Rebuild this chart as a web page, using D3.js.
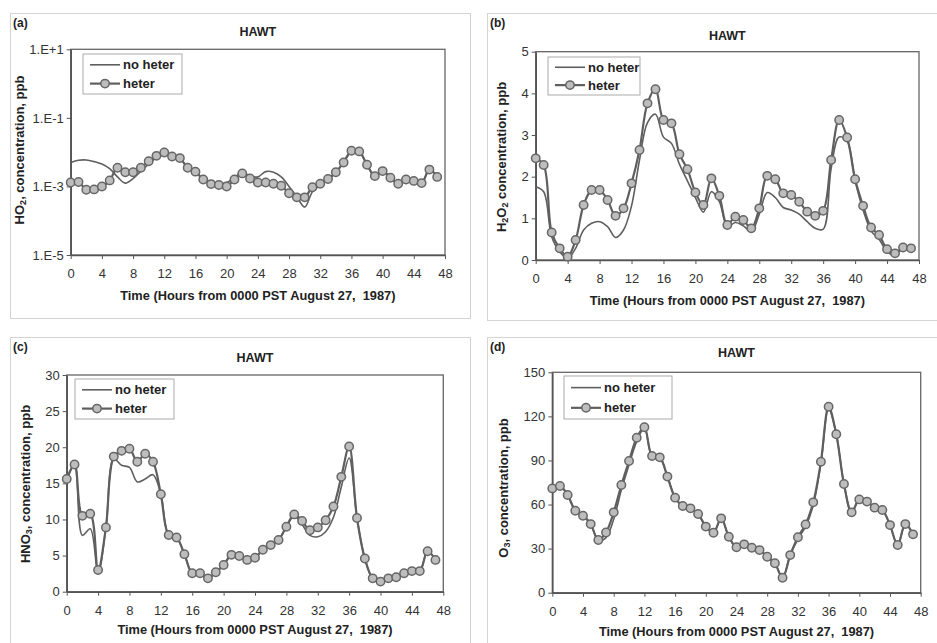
<!DOCTYPE html>
<html><head><meta charset="utf-8">
<script src="https://cdn.jsdelivr.net/npm/d3@7"></script>
<style>
html,body{margin:0;padding:0;background:#fff;}
svg{display:block;font-family:"Liberation Sans",Arial,sans-serif;}
</style></head>
<body>
<svg id="c" width="937" height="643"></svg>
<script>
// ---------- data ----------
const hours = d3.range(0, 48);
const xTicks = [0,4,8,12,16,20,24,28,32,36,40,44,48];
const seriesNames = ["no heter", "heter"];
const panelLabels = ["(a)", "(b)", "(c)", "(d)"];
const panelTitle = "HAWT";
const xTitle = "Time (Hours from 0000 PST August 27,\u00a0 1987)";

// (a) HO2, ppb (log scale)
const ho2Ticks = [1e1, 1e-1, 1e-3, 1e-5];
const ho2TickLabels = ["1.E+1", "1.E-1", "1.E-3", "1.E-5"];
const ho2NoHeter = [5.0e-3,5.8e-3,5.9e-3,5.3e-3,4.5e-3,3.3e-3,1.9e-3,1.25e-3,1.7e-3,2.8e-3,4.5e-3,7.0e-3,9.5e-3,7.5e-3,6.5e-3,3.5e-3,
  2.6e-3,1.6e-3,1.2e-3,1.2e-3,1.3e-3,1.8e-3,2.6e-3,2.0e-3,1.9e-3,2.7e-3,2.6e-3,1.9e-3,1.0e-3,0.5e-3,0.25e-3,0.7e-3,
  1.1e-3,1.6e-3,2.5e-3,5.0e-3,1.05e-2,1.0e-2,4.2e-3,2.0e-3,2.8e-3,1.8e-3,1.2e-3,1.6e-3,1.45e-3,1.25e-3,3.1e-3,1.9e-3];
const ho2Heter = [1.3e-3,1.35e-3,0.8e-3,0.82e-3,1.0e-3,1.5e-3,3.5e-3,2.6e-3,2.6e-3,3.5e-3,5.4e-3,7.8e-3,9.8e-3,7.5e-3,6.7e-3,3.5e-3,
  2.7e-3,1.6e-3,1.17e-3,1.1e-3,1.0e-3,1.6e-3,2.4e-3,1.7e-3,1.3e-3,1.3e-3,1.2e-3,1.05e-3,0.63e-3,0.48e-3,0.48e-3,0.95e-3,
  1.2e-3,1.65e-3,2.6e-3,5.0e-3,1.1e-2,1.05e-2,4.3e-3,2.0e-3,2.8e-3,1.8e-3,1.2e-3,1.6e-3,1.45e-3,1.25e-3,3.1e-3,1.9e-3];

// (b) H2O2, ppb
const h2o2Ticks = [0,1,2,3,4,5];
const h2o2NoHeter = [1.76,1.64,0.56,0.2,0.04,0.28,0.72,0.88,0.92,0.8,0.54,0.72,1.3,2.4,3.3,3.5,
  2.95,2.8,2.3,1.9,1.5,1.15,1.64,1.4,0.8,0.9,0.82,0.68,1.1,1.62,1.5,1.26,
  1.2,1.1,0.92,0.76,0.74,2.2,2.95,2.85,1.9,1.2,0.7,0.5,0.2,0.12,0.28,0.28];
const h2o2Heter = [2.44,2.28,0.66,0.28,0.08,0.48,1.32,1.68,1.68,1.44,1.06,1.24,1.84,2.64,3.76,4.1,
  3.36,3.28,2.54,2.18,1.62,1.32,1.96,1.54,0.84,1.04,0.96,0.76,1.24,2.02,1.94,1.6,
  1.56,1.4,1.16,1.06,1.18,2.4,3.36,2.94,1.94,1.3,0.78,0.6,0.26,0.16,0.3,0.28];

// (c) HNO3, ppb
const hno3Ticks = [0,5,10,15,20,25,30];
const hno3NoHeter = [15.3,17.5,7.8,8.7,2.5,8.9,18.4,17.5,17.2,15.2,15.6,16.2,13.5,7.85,7.5,5.2,
  2.55,2.55,1.85,2.7,3.7,5.1,4.95,4.4,4.7,5.8,6.45,7.15,9.0,10.5,9.3,7.8,
  7.6,8.3,10.3,14.5,18.5,10.2,4.6,1.85,1.4,1.85,2.0,2.55,2.85,2.85,5.6,4.4];
const hno3Heter = [15.6,17.6,10.5,10.8,3.0,8.9,18.7,19.5,19.8,18.0,19.1,18.0,13.5,7.85,7.5,5.2,
  2.55,2.55,1.85,2.7,3.7,5.1,4.95,4.4,4.7,5.8,6.45,7.15,9.0,10.7,9.8,8.5,
  8.9,9.9,11.8,15.9,20.1,10.2,4.6,1.85,1.4,1.85,2.0,2.55,2.85,2.85,5.6,4.4];

// (d) O3, ppb
const o3Ticks = [0,30,60,90,120,150];
const o3NoHeter = [71,72.6,66.5,55.8,52.4,46.7,35.5,37.5,50,70,87,103,112,93,92.1,79,
  64.7,59,57.4,53.6,45,40.8,50.6,38.1,30.9,32.9,30.6,29,24.5,20,10.2,25.6,
  36.5,45,59.5,88,125,107.8,74,54.7,63.5,62,57.9,56.3,46,32.5,46.7,39.7];
const o3Heter = [71,72.6,66.5,55.8,52.4,46.7,35.9,41,54.7,73.3,89.6,105.5,112.6,93,92.1,79,
  64.7,59,57.4,53.6,45,40.8,50.6,38.1,30.9,32.9,30.6,29,24.5,20,10.2,25.6,
  37.7,46.5,61.5,89.2,126.6,107.8,74,54.7,63.5,62,57.9,56.3,46,32.5,46.7,39.7];

// ---------- drawing ----------
const svg = d3.select("#c");
const lineCol = "#5f5f5f";

const panels = [
  {label:panelLabels[0], frame:[10,13,460,305], plot:[70.7,49.3,445,255], log:true, domain:[1e-5,1e1],
   ticks:ho2Ticks, tickLabels:ho2TickLabels, noh:ho2NoHeter, het:ho2Heter,
   ytitle:["HO","2",", concentration, ppb"], ytx:21, yty:150, titleY:36, xtickY:278, xtitleY:300, legend:[83,54,99,40]},
  {label:panelLabels[1], frame:[487,13,450,307], plot:[535.7,51.7,919,260], log:false, domain:[0,5],
   ticks:h2o2Ticks, noh:h2o2NoHeter, het:h2o2Heter,
   ytitle:["H","2","O","2"," concentration, ppb"], ytx:503, yty:157, titleY:40, xtickY:283, xtitleY:305, legend:[548,57,92,38]},
  {label:panelLabels[2], frame:[10,337,460,306], plot:[66.7,375,443.3,591.7], log:false, domain:[0,30],
   ticks:hno3Ticks, noh:hno3NoHeter, het:hno3Heter,
   ytitle:["HNO","3",", concentration, ppb"], ytx:27, yty:484, titleY:362, xtickY:615, xtitleY:634, legend:[75,379,99,40]},
  {label:panelLabels[3], frame:[487,337,450,306], plot:[552.3,372.3,920.7,592.7], log:false, domain:[0,150],
   ticks:o3Ticks, noh:o3NoHeter, het:o3Heter,
   ytitle:["O","3",", concentration, ppb"], ytx:505, yty:488, titleY:357, xtickY:616, xtitleY:636, legend:[564,376,108,43]}
];

panels.forEach(p => {
  const g = svg.append("g");
  // frame
  g.append("rect").attr("x",p.frame[0]+0.5).attr("y",p.frame[1]+0.5)
    .attr("width",p.frame[2]).attr("height",p.frame[3])
    .attr("fill","#fff").attr("stroke","#d4d4d4").attr("stroke-width",1);
  g.append("text").attr("x",p.frame[0]+3).attr("y",p.frame[1]+14)
    .attr("font-size",12).attr("font-weight","bold").attr("fill","#222").text(p.label);

  const [x0,y0,x1,y1] = p.plot;
  const x = d3.scaleLinear().domain([0,48]).range([x0,x1]);
  const y = (p.log ? d3.scaleLog() : d3.scaleLinear()).domain(p.domain).range([y1,y0]);

  // title
  g.append("text").attr("x",(x0+x1)/2).attr("y",p.titleY).attr("text-anchor","middle")
    .attr("font-size",12.5).attr("font-weight","bold").attr("fill","#222").text(panelTitle);

  // plot box
  g.append("rect").attr("x",x0).attr("y",y0).attr("width",x1-x0).attr("height",y1-y0)
    .attr("fill","none").attr("stroke","#666").attr("stroke-width",1.3);

  // x axis
  const xa = g.append("g").attr("transform",`translate(0,${y1})`)
    .call(d3.axisBottom(x).tickValues(xTicks).tickSize(4).tickSizeOuter(0));
  xa.select(".domain").attr("stroke","#555").attr("stroke-width",1.6);
  xa.selectAll(".tick line").attr("stroke","#555");
  xa.selectAll(".tick text").attr("font-size",13).attr("fill","#333")
    .attr("font-family","Liberation Sans, Arial, sans-serif").attr("y",p.xtickY - y1).attr("dy",0);

  // y axis
  const yAxis = d3.axisLeft(y).tickValues(p.ticks).tickSize(4).tickSizeOuter(0);
  if (p.tickLabels) yAxis.tickFormat((d,i) => p.tickLabels[i]);
  else yAxis.tickFormat(d3.format("d"));
  const ya = g.append("g").attr("transform",`translate(${x0},0)`).call(yAxis);
  ya.select(".domain").attr("stroke","#555").attr("stroke-width",1.6);
  ya.selectAll(".tick line").attr("stroke","#555");
  ya.selectAll(".tick text").attr("font-size",13).attr("fill","#333")
    .attr("font-family","Liberation Sans, Arial, sans-serif").attr("x",-7);

  // x title
  g.append("text").attr("x",(x0+x1)/2).attr("y",p.xtitleY).attr("text-anchor","middle")
    .attr("font-size",12.8).attr("font-weight","bold").attr("fill","#222").text(xTitle);

  // y title
  const yt = g.append("text").attr("transform",`translate(${p.ytx},${p.yty}) rotate(-90)`)
    .attr("text-anchor","middle").attr("dominant-baseline","middle")
    .attr("font-size",13).attr("font-weight","bold").attr("fill","#222");
  p.ytitle.forEach((s,i) => {
    const sub = /^\d$/.test(s);
    const t = yt.append("tspan").text(s);
    if (sub) t.attr("font-size",9).attr("dy",3);
    else if (i>0 && /^\d$/.test(p.ytitle[i-1])) t.attr("dy",-3);
  });

  // lines
  const lineNo = d3.line().x((d,i)=>x(hours[i])).y(d=>y(d)).curve(d3.curveCatmullRom.alpha(0.5));
  const lineHet = d3.line().x((d,i)=>x(hours[i])).y(d=>y(d)).curve(d3.curveCatmullRom.alpha(0.5));
  g.append("path").datum(p.noh).attr("d",lineNo).attr("fill","none")
    .attr("stroke",lineCol).attr("stroke-width",1.6);
  g.append("path").datum(p.het).attr("d",lineHet).attr("fill","none")
    .attr("stroke",lineCol).attr("stroke-width",2.2);
  g.selectAll("circle.m").data(p.het).join("circle").attr("class","m")
    .attr("cx",(d,i)=>x(hours[i])).attr("cy",d=>y(d)).attr("r",4.2)
    .attr("fill","#bdbdbd").attr("stroke","#666").attr("stroke-width",1.5);

  // legend
  const [lx,ly,lw,lh] = p.legend;
  const lg = g.append("g");
  lg.append("rect").attr("x",lx).attr("y",ly).attr("width",lw).attr("height",lh)
    .attr("fill","#fff").attr("stroke","#aaa").attr("stroke-width",1);
  const rows = [ly+lh*0.27, ly+lh*0.74];
  seriesNames.forEach((nm,i) => {
    lg.append("line").attr("x1",lx+7).attr("x2",lx+37).attr("y1",rows[i]).attr("y2",rows[i])
      .attr("stroke",lineCol).attr("stroke-width",i?2.2:1.6);
    if (i===1) lg.append("circle").attr("cx",lx+22).attr("cy",rows[i]).attr("r",4.2)
      .attr("fill","#bdbdbd").attr("stroke","#666").attr("stroke-width",1.5);
    lg.append("text").attr("x",lx+40).attr("y",rows[i]).attr("dy","0.35em")
      .attr("font-size",13).attr("font-weight","bold").attr("fill","#222").text(nm);
  });
});
</script>
</body></html>
